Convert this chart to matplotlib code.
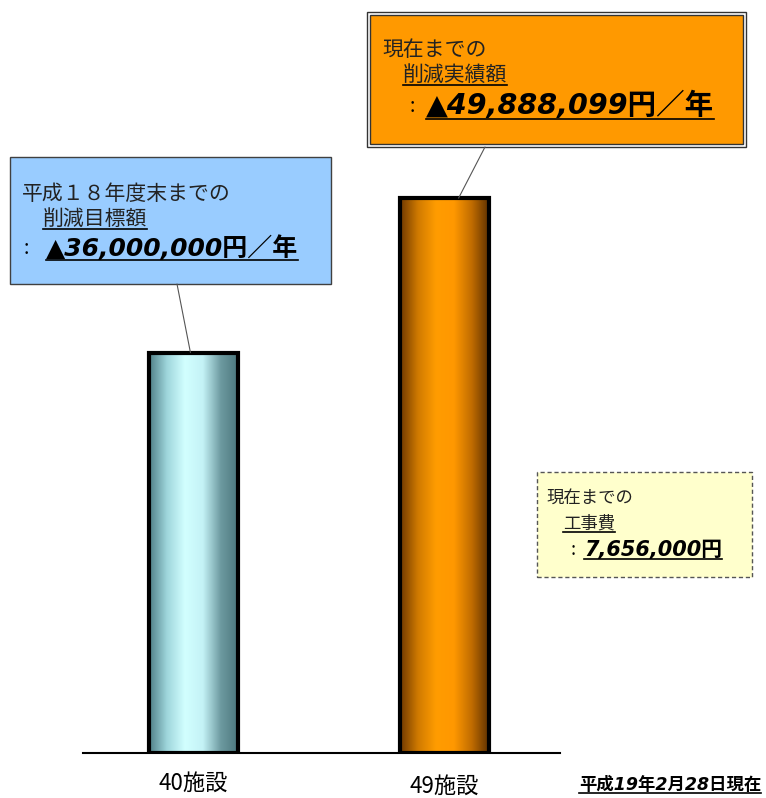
import numpy as np
import matplotlib.pyplot as plt
from matplotlib.patches import Rectangle, ConnectionPatch
from matplotlib.colors import LinearSegmentedColormap
from matplotlib.lines import Line2D
from matplotlib.transforms import blended_transform_factory

plt.rcParams['font.family'] = ['Noto Sans CJK JP', 'DejaVu Sans']

# data
categories = ['40施設', '49施設']
amounts = [36000000, 49888099]  # 円/年
target_lines = ['平成１８年度末までの', '削減目標額', '▲36,000,000円／年']
actual_lines = ['現在までの', '削減実績額', '▲49,888,099円／年']
cost_lines = ['現在までの', '工事費', '7,656,000円']
date_note = '平成19年2月28日現在'

W, H = 766, 798
fig = plt.figure(figsize=(W / 100, H / 100), dpi=100)


def fx(px):
    return px / W


def fy(py):
    return 1 - py / H


ax = fig.add_axes([fx(83), fy(753), fx(560) - fx(83), fy(0) - fy(753)])
vals = np.array(amounts) / 1e6
x = np.arange(len(categories))
ax.set_xlim(-0.44, 1.46)
ax.set_ylim(0, 67.7)
for s in ['top', 'right', 'left']:
    ax.spines[s].set_visible(False)
ax.spines['bottom'].set_linewidth(1.5)
ax.set_xticks([])
ax.set_yticks([])
ax.patch.set_alpha(0)

bars = ax.bar(x, vals, width=0.355, color='none', edgecolor='black', linewidth=3, zorder=3)

# cylinder-like horizontal shading inside the bars
cmaps = [
    LinearSegmentedColormap.from_list('b', ['#4f7f86', '#9fd6dc', '#d2ffff', '#c4f2f6', '#6d9aa0', '#4a767c']),
    LinearSegmentedColormap.from_list('o', ['#6e3800', '#d07a00', '#ff9c00', '#ff9800', '#c06c00', '#5a2e00']),
]
grad = np.linspace(0, 1, 256).reshape(1, -1)
for b, cm in zip(bars, cmaps):
    x0, w, h = b.get_x(), b.get_width(), b.get_height()
    im = ax.imshow(grad, cmap=cm, aspect='auto', extent=[x0, x0 + w, 0, h], zorder=2)
    im.set_clip_path(b)

# category labels under the baseline
lab_tr = blended_transform_factory(ax.transData, fig.transFigure)
lab_y = [783, 786]
for xi, lab, yy in zip(x, categories, lab_y):
    ax.text(xi, fy(yy), lab, transform=lab_tr, ha='center', va='center',
            fontsize=16, clip_on=False)

# callout boxes
fig.add_artist(Rectangle((fx(10), fy(284)), fx(331) - fx(10), fy(157) - fy(284),
                         transform=fig.transFigure, facecolor='#99ccff', edgecolor='#404040', lw=1))
fig.add_artist(Rectangle((fx(367), fy(147)), fx(746) - fx(367), fy(12) - fy(147),
                         transform=fig.transFigure, facecolor='none', edgecolor='#333333', lw=1))
fig.add_artist(Rectangle((fx(370), fy(144)), fx(743) - fx(370), fy(15) - fy(144),
                         transform=fig.transFigure, facecolor='#ff9900', edgecolor='#333333', lw=1))
fig.add_artist(Rectangle((fx(537), fy(577)), fx(752) - fx(537), fy(472) - fy(577),
                         transform=fig.transFigure, facecolor='#ffffcc', edgecolor='#555555',
                         lw=1, ls=(0, (3, 2))))

fig.add_artist(ConnectionPatch((fx(177), fy(284)), (x[0] - 0.012, vals[0]),
                               coordsA='figure fraction', coordsB=ax.transData,
                               color='#555555', lw=0.8))
fig.add_artist(ConnectionPatch((fx(485), fy(147)), (x[1] + 0.056, vals[1]),
                               coordsA='figure fraction', coordsB=ax.transData,
                               color='#555555', lw=0.8))

underline = []
bold_it = dict(fontweight='bold', style='italic', family=['DejaVu Sans', 'Noto Sans CJK JP'])

# blue box text
fig.text(fx(22), fy(194), target_lines[0], fontsize=15, va='center', color='#222222')
underline.append(fig.text(fx(43), fy(219), target_lines[1], fontsize=15, va='center', color='#222222'))
fig.text(fx(24), fy(248), ':', fontsize=14, va='center')
underline.append(fig.text(fx(46), fy(248), target_lines[2], fontsize=18, va='center', **bold_it))

# orange box text
fig.text(fx(382), fy(50), actual_lines[0], fontsize=15, va='center', color='#222222')
underline.append(fig.text(fx(403), fy(75), actual_lines[1], fontsize=15, va='center', color='#222222'))
fig.text(fx(410), fy(106), ':', fontsize=14, va='center')
underline.append(fig.text(fx(426), fy(106), actual_lines[2], fontsize=20.5, va='center', **bold_it))

# yellow box text
fig.text(fx(546), fy(498), cost_lines[0], fontsize=12.5, va='center', color='#222222')
underline.append(fig.text(fx(563), fy(524), cost_lines[1], fontsize=12.5, va='center', color='#222222'))
fig.text(fx(571), fy(550), ':', fontsize=13, va='center')
underline.append(fig.text(fx(584), fy(550), cost_lines[2], fontsize=15, va='center', **bold_it))

underline.append(fig.text(fx(579), fy(785), date_note, fontsize=12.5, va='center', **bold_it))

# matplotlib has no underline, so draw a line under each text's box
fig.canvas.draw()
r = fig.canvas.get_renderer()
for t in underline:
    bb = t.get_window_extent(r)
    yy = bb.y0 + 1
    fig.add_artist(Line2D([bb.x0 / W, bb.x1 / W], [yy / H, yy / H], color='black', lw=1.2))

fig.savefig('out.png', dpi=100, facecolor='white')
